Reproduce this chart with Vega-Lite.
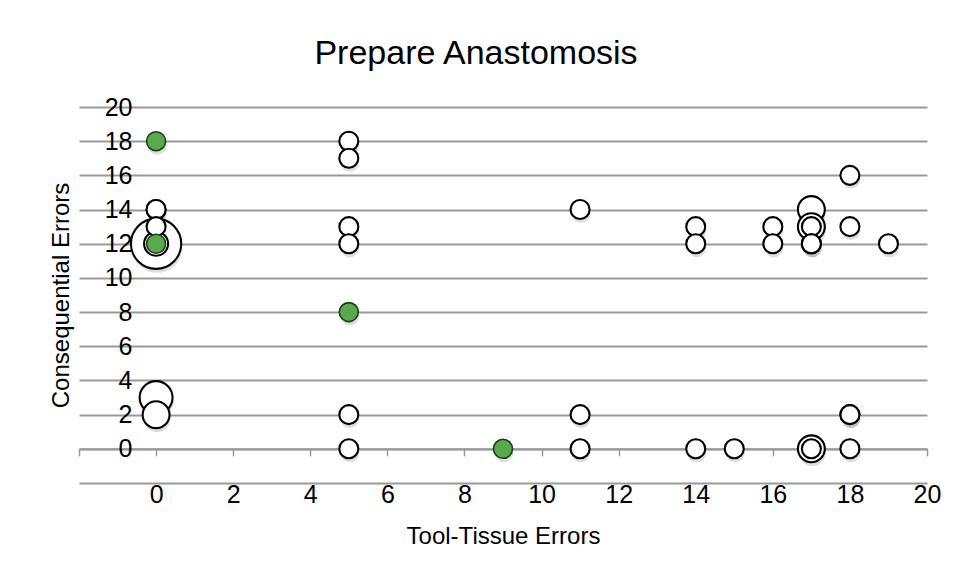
{
  "$schema": "https://vega.github.io/schema/vega-lite/v6.json",
  "width": 848,
  "height": 376,
  "autosize": {"type": "none"},
  "padding": {"left": 79, "top": 107, "right": 29, "bottom": 95},
  "background": "white",
  "title": {
    "text": "Prepare Anastomosis",
    "font": "Liberation Sans",
    "fontSize": 34,
    "fontWeight": "normal",
    "color": "black",
    "anchor": "middle",
    "frame": "group",
    "dx": -27,
    "offset": 24
  },
  "config": {
    "view": {"stroke": null},
    "font": "Liberation Sans"
  },
  "datasets": {
    "bubbles": [
      {"tool": 0, "cons": 14, "n": 1, "g": "w"},
      {"tool": 0, "cons": 14, "n": 1, "g": "w"},
      {"tool": 0, "cons": 13, "n": 1, "g": "w"},
      {"tool": 0, "cons": 12, "n": 7, "g": "w"},
      {"tool": 0, "cons": 12, "n": 1.6, "g": "w"},
      {"tool": 0, "cons": 3, "n": 3, "g": "w"},
      {"tool": 0, "cons": 2, "n": 2, "g": "w"},
      {"tool": 5, "cons": 18, "n": 1, "g": "w"},
      {"tool": 5, "cons": 17, "n": 1, "g": "w"},
      {"tool": 5, "cons": 13, "n": 1, "g": "w"},
      {"tool": 5, "cons": 12, "n": 1, "g": "w"},
      {"tool": 5, "cons": 2, "n": 1, "g": "w"},
      {"tool": 5, "cons": 0, "n": 1, "g": "w"},
      {"tool": 11, "cons": 14, "n": 1, "g": "w"},
      {"tool": 11, "cons": 2, "n": 1, "g": "w"},
      {"tool": 11, "cons": 0, "n": 1, "g": "w"},
      {"tool": 14, "cons": 13, "n": 1, "g": "w"},
      {"tool": 14, "cons": 12, "n": 1, "g": "w"},
      {"tool": 14, "cons": 0, "n": 1, "g": "w"},
      {"tool": 15, "cons": 0, "n": 1, "g": "w"},
      {"tool": 16, "cons": 13, "n": 1, "g": "w"},
      {"tool": 16, "cons": 12, "n": 1, "g": "w"},
      {"tool": 17, "cons": 14, "n": 2, "g": "w"},
      {"tool": 17, "cons": 13, "n": 2, "g": "w"},
      {"tool": 17, "cons": 13, "n": 1, "g": "w"},
      {"tool": 17, "cons": 12, "n": 1, "g": "w"},
      {"tool": 17, "cons": 12, "n": 1, "g": "w"},
      {"tool": 17, "cons": 0, "n": 2, "g": "w"},
      {"tool": 17, "cons": 0, "n": 1, "g": "w"},
      {"tool": 18, "cons": 16, "n": 1, "g": "w"},
      {"tool": 18, "cons": 13, "n": 1, "g": "w"},
      {"tool": 18, "cons": 2, "n": 1, "g": "w"},
      {"tool": 18, "cons": 2, "n": 1, "g": "w"},
      {"tool": 18, "cons": 0, "n": 1, "g": "w"},
      {"tool": 19, "cons": 12, "n": 1, "g": "w"},
      {"tool": 0, "cons": 18, "n": 1, "g": "g"},
      {"tool": 0, "cons": 12, "n": 1, "g": "g"},
      {"tool": 5, "cons": 8, "n": 1, "g": "g"},
      {"tool": 9, "cons": 0, "n": 1, "g": "g"}
    ]
  },
  "encoding": {
    "x": {
      "field": "tool",
      "type": "quantitative",
      "scale": {"domain": [-2, 20], "nice": false, "zero": false},
      "axis": {
        "title": "Tool-Tissue Errors",
        "orient": "bottom",
        "offset": -34.18,
        "values": [-2, 0, 2, 4, 6, 8, 10, 12, 14, 16, 18, 20],
        "labelExpr": "datum.value < 0 ? '' : datum.label",
        "grid": false,
        "domain": true,
        "domainColor": "#999999",
        "domainWidth": 2,
        "ticks": true,
        "tickColor": "#999999",
        "tickWidth": 1.5,
        "tickSize": 7,
        "labelPadding": 27,
        "labelFontSize": 25,
        "labelColor": "black",
        "labelFlush": false,
        "labelOverlap": false,
        "titleFontSize": 24,
        "titleFontWeight": "normal",
        "titleColor": "black",
        "titlePadding": 17
      }
    },
    "y": {
      "field": "cons",
      "type": "quantitative",
      "scale": {"domain": [-2, 20], "nice": false, "zero": false},
      "axis": {
        "title": "Consequential Errors",
        "orient": "left",
        "values": [-2, 0, 2, 4, 6, 8, 10, 12, 14, 16, 18, 20],
        "labelExpr": "datum.value < 0 ? '' : datum.label",
        "grid": true,
        "gridColor": "#999999",
        "gridWidth": 2,
        "domain": false,
        "ticks": false,
        "tickSize": 0,
        "labelPadding": -53,
        "labelFontSize": 25,
        "labelColor": "black",
        "labelFlush": false,
        "labelOverlap": false,
        "titleFontSize": 24,
        "titleFontWeight": "normal",
        "titleColor": "black",
        "titlePadding": 6
      }
    },
    "size": {
      "field": "n",
      "type": "quantitative",
      "scale": {"type": "linear", "domain": [0, 1], "range": [0, 361], "zero": true, "nice": false},
      "legend": null
    },
    "order": {"field": "n", "sort": "descending"}
  },
  "layer": [
    {
      "data": {"values": [{}]},
      "mark": {"type": "rule", "color": "#999999", "strokeWidth": 2},
      "encoding": {
        "x": {"datum": 0},
        "y": {"datum": -2},
        "y2": {"datum": 20},
        "size": {"value": 2},
        "order": null
      }
    },
    {
      "data": {"name": "bubbles"},
      "mark": {"type": "circle", "fill": "black", "fillOpacity": 0.13, "strokeWidth": 0, "yOffset": 4, "xOffset": 1}
    },
    {
      "data": {"name": "bubbles"},
      "transform": [{"filter": "datum.g == 'w'"}],
      "mark": {"type": "point", "shape": "circle", "filled": false, "fill": "white", "fillOpacity": 1, "stroke": "black", "strokeWidth": 2.1, "opacity": 1}
    },
    {
      "data": {"name": "bubbles"},
      "transform": [{"filter": "datum.g == 'g'"}],
      "mark": {"type": "point", "shape": "circle", "filled": true, "fill": "#5aa94f", "fillOpacity": 1, "stroke": "#1e3d1a", "strokeWidth": 1.6, "opacity": 1}
    }
  ]
}
